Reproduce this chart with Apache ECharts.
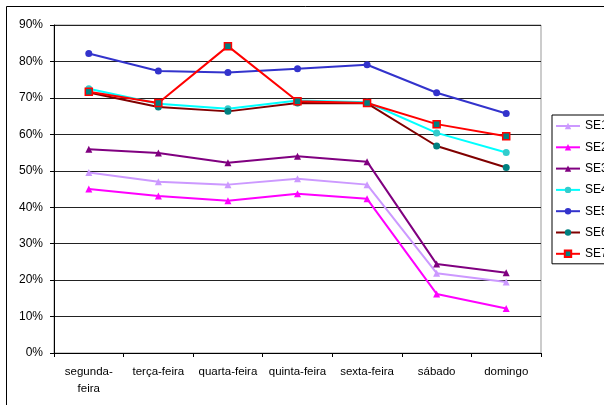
<!DOCTYPE html>
<html>
<head>
<meta charset="utf-8">
<script src="https://cdn.jsdelivr.net/npm/echarts@6/dist/echarts.min.js"></script>
<style>
  html, body { margin: 0; padding: 0; background: #fff; }
  #chart { width: 604px; height: 405px; }
</style>
</head>
<body>
<div id="chart"></div>
<script>
// Weekday categories (axis labels)
const days = ['segunda-\nfeira', 'terça-feira', 'quarta-feira', 'quinta-feira', 'sexta-feira', 'sábado', 'domingo'];

// Share per weekday, in percent, for each series
const se1 = [49.5, 47.0, 46.2, 47.8, 46.2, 21.9, 19.5];
const se2 = [45.0, 43.1, 41.8, 43.7, 42.3, 16.2, 12.2];
const se3 = [55.9, 54.9, 52.2, 54.0, 52.5, 24.4, 22.0];
const se4 = [72.5, 68.4, 67.0, 69.3, 68.8, 60.4, 55.0];
const se5 = [82.2, 77.4, 77.0, 78.0, 79.1, 71.4, 65.7];
const se6 = [71.5, 67.5, 66.3, 68.6, 68.5, 56.8, 50.9];
const se7 = [71.7, 68.6, 84.2, 69.1, 68.6, 62.8, 59.5];

const seriesNames = ['SE1', 'SE2', 'SE3', 'SE4', 'SE5', 'SE6', 'SE7'];
const seriesData = [se1, se2, se3, se4, se5, se6, se7];

// Y axis range (percent)
const yMin = 0, yMax = 90, yStep = 10;

const styles = [
  { line: '#CC99FF', fill: '#CC99FF', border: '#CC99FF', symbol: 'triangle', size: 7 },
  { line: '#FF00FF', fill: '#FF00FF', border: '#FF00FF', symbol: 'triangle', size: 7 },
  { line: '#800080', fill: '#800080', border: '#800080', symbol: 'triangle', size: 7 },
  { line: '#00FFFF', fill: '#33CCCC', border: '#33CCCC', symbol: 'circle', size: 7 },
  { line: '#3333CC', fill: '#3333CC', border: '#3333CC', symbol: 'circle', size: 7 },
  { line: '#800000', fill: '#008080', border: '#008080', symbol: 'circle', size: 7 },
  { line: '#FF0000', fill: '#008080', border: '#FF0000', symbol: 'rect', size: 7 }
];

const chart = echarts.init(document.getElementById('chart'), null, { renderer: 'canvas' });

const series = seriesNames.map((name, i) => ({
  name: name,
  type: 'line',
  data: seriesData[i],
  symbol: styles[i].symbol,
  symbolSize: styles[i].size,
  showAllSymbol: true,
  animation: false,
  lineStyle: { color: styles[i].line, width: 2 },
  itemStyle: {
    color: styles[i].fill,
    borderColor: styles[i].border,
    borderWidth: styles[i].symbol === 'rect' ? 1.5 : 0
  },
  emphasis: { disabled: true },
  z: 2 + i
}));

chart.setOption({
  animation: false,
  backgroundColor: '#ffffff',
  textStyle: { fontFamily: 'Liberation Sans, Arial, sans-serif' },
  graphic: [{
    type: 'rect',
    shape: { x: 6.5, y: 6.5, width: 700, height: 500 },
    style: { fill: 'none', stroke: '#000', lineWidth: 1 },
    silent: true,
    z: 0
  }],
  grid: {
    left: 54, top: 25, right: 63, bottom: 52,
    show: true, borderColor: '#999999', borderWidth: 1, backgroundColor: 'transparent'
  },
  legend: {
    orient: 'vertical',
    left: 552, top: 115,
    padding: [4, 40, 3, 3],
    itemWidth: 24, itemHeight: 8, itemGap: 7.3,
    borderColor: '#000', borderWidth: 1,
    textStyle: { color: '#000', fontSize: 12, lineHeight: 14, fontFamily: 'Liberation Sans, Arial, sans-serif' },
    data: seriesNames
  },
  xAxis: {
    type: 'category',
    data: days,
    boundaryGap: true,
    axisLine: { lineStyle: { color: '#000', width: 1 } },
    axisTick: { show: true, length: 4, lineStyle: { color: '#000' } },
    axisLabel: { color: '#000', fontSize: 11.5, lineHeight: 17, margin: 10, interval: 0 },
    splitLine: { show: false }
  },
  yAxis: {
    type: 'value',
    min: yMin, max: yMax, interval: yStep,
    axisLine: { show: true, lineStyle: { color: '#000', width: 1 } },
    axisTick: { show: true, length: 4, lineStyle: { color: '#000' } },
    axisLabel: { color: '#000', fontSize: 12, margin: 11, formatter: '{value}%' },
    splitLine: { show: true, lineStyle: { color: '#222222', width: 1 } }
  },
  series: series
});
</script>
</body>
</html>
